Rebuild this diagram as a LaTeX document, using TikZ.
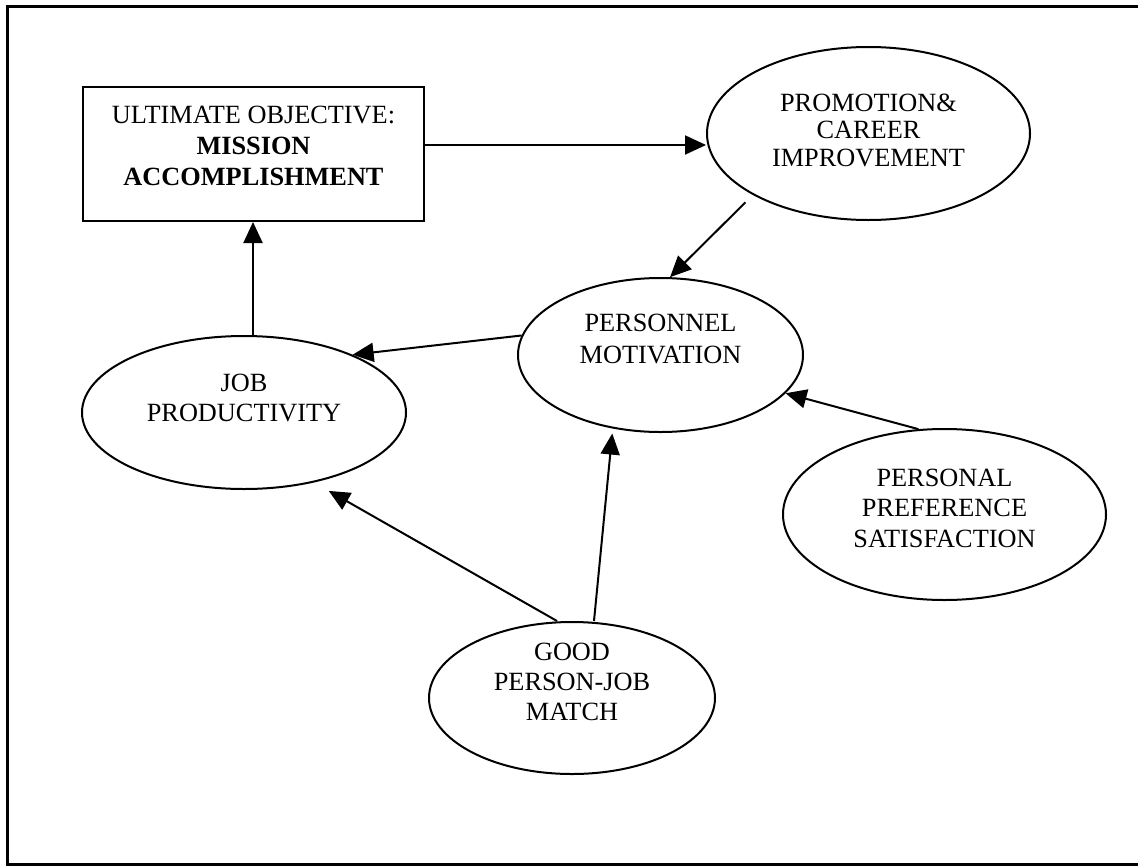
\documentclass[tikz,border=0pt]{standalone}
\usepackage{fontspec}
\setmainfont{Liberation Serif}
\usetikzlibrary{arrows.meta,shapes.geometric}
\begin{document}
\begin{tikzpicture}[x=1pt,y=-1pt,
  lbl/.style={align=center, inner sep=0pt, font=\fontsize{26.3}{#1}\selectfont},
  lbl/.default=30,
  oval/.style={ellipse, draw, line width=2pt, inner sep=0pt},
  goalbox/.style={rectangle, draw, line width=2pt, inner sep=0pt},
  conn/.style={line width=2pt, -{Triangle[length=21pt,width=19pt]}},
  frameline/.style={line width=3pt}]
\useasboundingbox (0,0) rectangle (1138,865);

% outer frame (right side runs off the page)
\draw[frameline] (1138,6) -- (7,6) -- (7,864) -- (1138,864);

% nodes
\node[goalbox, minimum width=341pt, minimum height=134pt] (goal) at (253.5,154) {};
\node[lbl=31] (goalt) at ([yshift=8pt]goal.center)
  {ULTIMATE OBJECTIVE:\\\textbf{MISSION}\\\textbf{ACCOMPLISHMENT}};

\node[oval, minimum width=323pt, minimum height=173pt] (pc) at (868.5,133.5) {};
\node[lbl=27.5] (pct) at ([yshift=3.5pt]pc.center) {PROMOTION\&\\CAREER\\IMPROVEMENT};

\node[oval, minimum width=285pt, minimum height=154pt] (pm) at (660.5,355) {};
\node[lbl=32] (pmt) at ([yshift=16pt]pm.center) {PERSONNEL\\MOTIVATION};

\node[oval, minimum width=324pt, minimum height=153pt] (jp) at (244,412.5) {};
\node[lbl=30] (jpt) at ([yshift=14.5pt]jp.center) {JOB\\PRODUCTIVITY};

\node[oval, minimum width=323pt, minimum height=171pt] (pp) at (944.5,514.5) {};
\node[lbl=30.5] (ppt) at ([yshift=6.5pt]pp.center) {PERSONAL\\PREFERENCE\\SATISFACTION};

\node[oval, minimum width=286pt, minimum height=152pt] (gj) at (572,698) {};
\node[lbl=30] (gjt) at ([yshift=16pt]gj.center) {GOOD\\PERSON-JOB\\MATCH};

% connectors
\draw[conn] ([yshift=9pt]goal.east) -- ([yshift=9pt]goal.east -| pc.west);
\draw[conn] ([xshift=9pt]jp.north) -- ([xshift=9pt]jp.north |- goal.south);
\draw[conn, shorten <=10.5pt] (pc.208.2) -- (pm.83);
\draw[conn] (pm.172) -- (jp.28.5);
\draw[conn] (pp.107.4) -- (pm.343);
\draw[conn, shorten >=5pt] ([xshift=22pt]gj.north) -- (pm.237);
\draw[conn, shorten >=17pt] ([xshift=-15pt]gj.north) -- (jp.315.9);
\end{tikzpicture}
\end{document}
